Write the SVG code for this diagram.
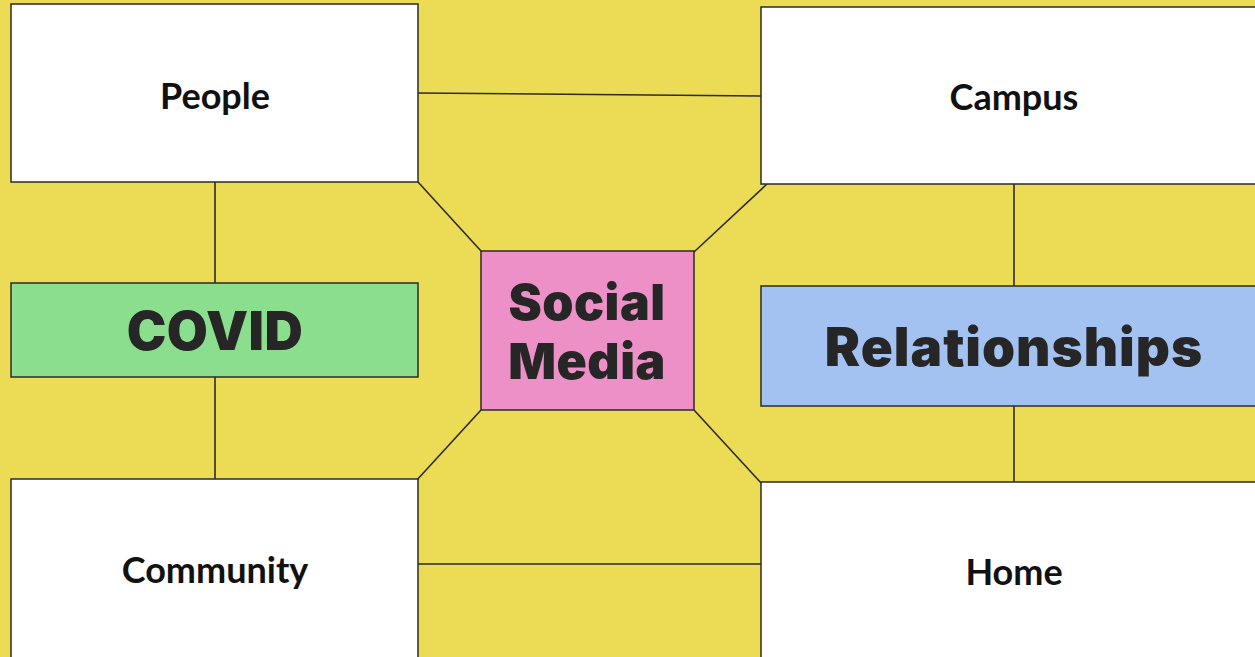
<svg xmlns="http://www.w3.org/2000/svg" width="1255" height="657" viewBox="0 0 1255 657">
<style>
.box{stroke:#2b2b2b;stroke-width:1.5}
.w{fill:#ffffff}
.lbl{font-family:Lato,"Noto Sans","Liberation Sans",sans-serif;font-weight:700;font-size:36px;fill:#111;text-anchor:middle;dominant-baseline:central}
.big{font-family:Inter,"Liberation Sans",sans-serif;font-weight:900;fill:#262626;text-anchor:middle;dominant-baseline:central}
.c{stroke:#2b2b2b;stroke-width:1.6;fill:none}
</style>
<rect width="1255" height="657" fill="#ECDC55"/>
<g id="connectors">
<line class="c" x1="418" y1="93" x2="761" y2="96"/>
<line class="c" x1="215" y1="182" x2="215" y2="283"/>
<line class="c" x1="215" y1="377" x2="215" y2="479"/>
<line class="c" x1="1014" y1="184" x2="1014" y2="286"/>
<line class="c" x1="1014" y1="406" x2="1014" y2="482"/>
<line class="c" x1="418" y1="564" x2="761" y2="564"/>
<line class="c" x1="418" y1="182" x2="481" y2="251"/>
<line class="c" x1="694" y1="252" x2="767" y2="184"/>
<line class="c" x1="481" y1="410" x2="416" y2="481"/>
<line class="c" x1="694" y1="410" x2="762" y2="484"/>
</g>
<g id="people"><rect class="box w" x="11" y="4" width="407" height="178"/><text class="lbl" x="215" y="95">People</text></g>
<g id="campus"><rect class="box w" x="761" y="7" width="500" height="177"/><text class="lbl" x="1014" y="96">Campus</text></g>
<g id="covid"><rect class="box" fill="#8ADE8E" x="11" y="283" width="407" height="94"/><text class="big" x="215" y="331" font-size="53" letter-spacing="0.5">COVID</text></g>
<g id="social-media"><rect class="box" fill="#ED90C7" x="481" y="251" width="213" height="159"/><text class="big" x="587" y="302" font-size="50" letter-spacing="0.5">Social</text><text class="big" x="587" y="361" font-size="50" letter-spacing="0.5">Media</text></g>
<g id="relationships"><rect class="box" fill="#A3C2F2" x="761" y="286" width="500" height="120"/><text class="big" x="1014" y="347" font-size="53" letter-spacing="1">Relationships</text></g>
<g id="community"><rect class="box w" x="11" y="479" width="407" height="185"/><text class="lbl" x="215" y="569">Community</text></g>
<g id="home"><rect class="box w" x="761" y="482" width="500" height="185"/><text class="lbl" x="1014" y="571">Home</text></g>
</svg>
